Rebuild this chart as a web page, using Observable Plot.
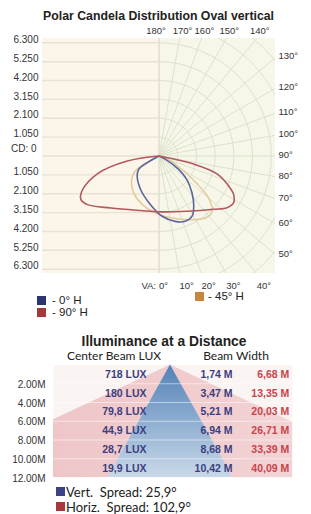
<!DOCTYPE html>
<html><head><meta charset="utf-8">
<script src="https://cdn.jsdelivr.net/npm/d3@7"></script>
<script src="https://cdn.jsdelivr.net/npm/@observablehq/plot@0.6"></script>
<style>
html,body{margin:0;padding:0;background:#fff;}
body{width:311px;height:514px;position:relative;overflow:hidden;font-family:"Liberation Sans",Arial,sans-serif;color:#222;}
.abs{position:absolute;white-space:pre;line-height:1;}
.c{transform:translate(-50%,-50%);}
.l{transform:translate(0,-50%);}
.sw{position:absolute;width:9px;height:9px;}
svg{overflow:visible;}
</style></head><body>
<script>
// ---------- Polar candela data ----------
const polarTitle = "Polar Candela Distribution Oval vertical";
const seriesNames = ["- 0° H", "- 90° H", "- 45° H"];
const va0  = [-57, -48, -29, -12, 3, 14, 22, 29, 35, 42, 50, 56, 63];
const cd0  = [1350, 1650, 2130, 2670, 3360, 3750, 3920, 3830, 3400, 2770, 2040, 1330, 410];
const va90 = [-81, -74, -66, -61, -56, -43, -19, 2, 27, 46, 53, 58, 63, 66, 73, 77];
const cd90 = [1800, 3600, 4720, 5010, 4840, 3960, 3210, 3110, 3450, 4270, 4780, 4930, 4700, 4370, 3410, 2000];
const va45 = [-58, -48, -35, -19, -4, 12, 25, 37, 44, 50, 54, 59, 67];
const cd45 = [1560, 2080, 2490, 2860, 3170, 3530, 3910, 4320, 4290, 3630, 2660, 1600, 700];
const cdLevels = [1050, 2100, 3150, 4200, 5250, 6300];
const cdLabels = ["1.050", "2.100", "3.150", "4.200", "5.250", "6.300"];
const topAngles = [170, 160, 150, 140];
const rightAngles = [130, 120, 110, 100, 90, 80, 70, 60, 50];
const bottomAngles = [0, 10, 20, 30, 40];
const gridAngles = [0, 10, 20, 30, 40, 50, 60, 70, 80, 90, 100, 110, 120, 130, 140, 150, 160, 170, 180];

// ---------- Illuminance data ----------
const illumTitle = "Illuminance at a Distance";
const distances = [2, 4, 6, 8, 10, 12];
const distLabels = ["2.00M", "4.00M", "6.00M", "8.00M", "10.00M", "12.00M"];
const luxLabels = ["718 LUX", "180 LUX", "79,8 LUX", "44,9 LUX", "28,7 LUX", "19,9 LUX"];
const vertWidths = [1.74, 3.47, 5.21, 6.94, 8.68, 10.42];
const horizWidths = [6.68, 13.35, 20.03, 26.71, 33.39, 40.09];
const spreadLabels = ["Vert.  Spread: 25,9°", "Horiz.  Spread: 102,9°"];

const D = 6540;
const rad = a => a * Math.PI / 180;
const toPts = (vas, cds, name) => [{x: 0, y: 0, s: name},
  ...vas.map((a, i) => ({x: cds[i] * Math.sin(rad(a)), y: cds[i] * Math.cos(rad(a)), s: name})),
  {x: 0, y: 0, s: name}];

const pts0 = toPts(va0, cd0, seriesNames[0]);
const pts90 = toPts(va90, cd90, seriesNames[1]);
const pts45 = toPts(va45, cd45, seriesNames[2]);

const levelsAll = [...cdLevels.map(v => -v).reverse(), 0, ...cdLevels];
const levelsNZ = levelsAll.filter(v => v !== 0);
const levelText = v => cdLabels[cdLevels.indexOf(Math.abs(v))];

const arcs = [];
for (let k = 1; k <= 9; k++) {
  for (let a = 0; a <= 180; a += 3) arcs.push({k, x: k * 1050 * Math.sin(rad(a)), y: k * 1050 * Math.cos(rad(a))});
}
const far = 3 * D;
const lab = {fontSize: 9.5, fill: "#333"};

const p1 = Plot.plot({
  width: 311, height: 300,
  marginLeft: 42, marginRight: 36, marginTop: 38, marginBottom: 27,
  x: {domain: [-D, D], axis: null},
  y: {domain: [-D, D], reverse: true, axis: null},
  style: {background: "transparent", fontFamily: "Liberation Sans, Arial, sans-serif"},
  marks: [
    Plot.rect([0], {x1: -D, x2: 0, y1: -D, y2: D, fill: "#fcf6ea"}),
    Plot.rect([0], {x1: 0, x2: D, y1: -D, y2: D, fill: "#f6f7e9"}),
    Plot.ruleY(levelsAll, {y: d => d, x1: -D, x2: 0, stroke: "#e8e2d2", strokeWidth: 1.4}),
    Plot.line(arcs, {x: "x", y: "y", z: "k", stroke: "#dde1cc", strokeWidth: 1, clip: true}),
    Plot.link(gridAngles, {x1: 0, y1: 0, x2: a => far * Math.sin(rad(a)), y2: a => far * Math.cos(rad(a)), stroke: "#dde1cc", strokeWidth: 1, clip: true}),
    Plot.ruleX([0], {stroke: "#dcdccb", strokeWidth: 1}),
    Plot.line(pts45, {x: "x", y: "y", stroke: "#e4cb9c", strokeWidth: 1.5, curve: "catmull-rom"}),
    Plot.line(pts0, {x: "x", y: "y", stroke: "#5c659f", strokeWidth: 1.6, curve: "catmull-rom"}),
    Plot.line(pts90, {x: "x", y: "y", stroke: "#b3585d", strokeWidth: 1.6, curve: "catmull-rom"}),
    Plot.text(levelsNZ, {x: () => -D, y: d => d, text: levelText, textAnchor: "end", dx: -4, dy: -3, fontSize: 10, fill: "#333"}),
    Plot.text(["CD: 0"], {x: () => -D, y: () => 0, text: d => d, textAnchor: "end", dx: -6, dy: -7, fontSize: 10, fill: "#333"}),
    Plot.text([180], {x: a => -D * Math.tan(rad(a)), y: () => -D, text: a => a + "°", dy: -8, dx: -3, ...lab}),
    Plot.text(topAngles, {x: a => -D * Math.tan(rad(a)), y: () => -D, text: a => a + "°", dy: -8, dx: 3, ...lab}),
    Plot.text(rightAngles, {x: () => D, y: a => D / Math.tan(rad(a)), text: a => a + "°", textAnchor: "start", dx: 3, dy: -1, ...lab}),
    Plot.text(bottomAngles, {x: a => D * Math.tan(rad(a)), y: () => D, text: a => a + "°", textAnchor: "start", dy: 12, ...lab}),
    Plot.text(["VA:"], {x: () => 0, y: () => D, text: d => d, textAnchor: "end", dx: -3, dy: 12, ...lab})
  ]
});
const w1 = document.createElement("div");
w1.className = "abs"; w1.style.left = "0px"; w1.style.top = "0px";
w1.appendChild(p1); document.body.appendChild(w1);

// ---------- Illuminance plot ----------
const X0 = -9.75, X1 = 10.17;
const pinkArea = [{d: 0, w: 0}, ...distances.map((d, i) => ({d, w: horizWidths[i]}))];
const blueArea = [{d: 0, w: 0}, ...distances.map((d, i) => ({d, w: vertWidths[i]}))];

const p2 = Plot.plot({
  width: 311, height: 125,
  marginLeft: 53, marginRight: 19, marginTop: 4.5, marginBottom: 8,
  x: {domain: [X0, X1], axis: null},
  y: {domain: [0, 12], reverse: true, axis: null},
  style: {background: "transparent", fontFamily: "Liberation Sans, Arial, sans-serif"},
  marks: [
    Plot.frame({fill: "#faf4f3", stroke: null}),
    Plot.areaX(pinkArea, {y: "d", x1: d => -d.w / 2, x2: d => d.w / 2, fill: "url(#pinkGrad)", clip: true}),
    Plot.areaX(blueArea, {y: "d", x1: d => -d.w / 2, x2: d => d.w / 2, fill: "url(#blueGrad)", clip: true}),
    Plot.ruleY(distances.slice(0, 5), {y: d => d, stroke: "#ffffff", strokeOpacity: 0.5, strokeWidth: 1}),
    Plot.text(distances, {x: () => X0, y: d => d, text: (d, i) => distLabels[i], textAnchor: "end", dx: -8, dy: 1, fontSize: 10, fill: "#333"}),
    Plot.text(distances, {x: () => -2, y: d => d - 1, text: (d, i) => luxLabels[i], textAnchor: "end", fontSize: 10.5, fontWeight: "bold", fill: "#3b3f7f"}),
    Plot.text(distances, {x: () => 5.17, y: d => d - 1, text: (d, i) => vertWidths[i].toFixed(2).replace(".", ",") + " M", textAnchor: "end", fontSize: 10.5, fontWeight: "bold", fill: "#3b3f7f"}),
    Plot.text(distances, {x: () => 9.9, y: d => d - 1, text: (d, i) => horizWidths[i].toFixed(2).replace(".", ",") + " M", textAnchor: "end", fontSize: 10.5, fontWeight: "bold", fill: "#c8444d"})
  ]
});
const svg2 = d3.select(p2.tagName.toLowerCase() === "svg" ? p2 : p2.querySelector("svg"));
const defs = svg2.insert("defs", ":first-child");
const pg = defs.append("linearGradient").attr("id", "pinkGrad").attr("x1", 0).attr("x2", 1).attr("y1", 0).attr("y2", 0);
pg.append("stop").attr("offset", "0%").attr("stop-color", "#edc2c5");
pg.append("stop").attr("offset", "50%").attr("stop-color", "#f0cbcd");
pg.append("stop").attr("offset", "100%").attr("stop-color", "#f5dcdc");
const bg = defs.append("linearGradient").attr("id", "blueGrad").attr("x1", 0).attr("x2", 0).attr("y1", 0).attr("y2", 1);
bg.append("stop").attr("offset", "0%").attr("stop-color", "#5281b6");
bg.append("stop").attr("offset", "55%").attr("stop-color", "#94b2d3");
bg.append("stop").attr("offset", "100%").attr("stop-color", "#c9d8e8");
const w2 = document.createElement("div");
w2.className = "abs"; w2.style.left = "0px"; w2.style.top = "360px";
w2.appendChild(p2); document.body.appendChild(w2);

// ---------- HTML text ----------
function txt(t, x, y, cls, css) {
  const e = document.createElement("div");
  e.className = "abs " + cls; e.textContent = t;
  e.style.left = x + "px"; e.style.top = y + "px";
  Object.assign(e.style, css || {});
  document.body.appendChild(e); return e;
}
function sw(x, y, color) {
  const e = document.createElement("div");
  e.className = "sw"; e.style.left = x + "px"; e.style.top = y + "px"; e.style.background = color;
  document.body.appendChild(e);
}
txt(polarTitle, 158.5, 16, "c", {fontSize: "12.3px", fontWeight: "bold", color: "#222"});
sw(37, 296, "#2b3570"); txt(seriesNames[0], 52, 301, "l", {fontSize: "11.5px"});
sw(37, 308, "#a3383c"); txt(seriesNames[1], 52, 313, "l", {fontSize: "11.5px"});
sw(195, 292, "#c8873f"); txt(seriesNames[2], 208, 297, "l", {fontSize: "11.5px"});

txt(illumTitle, 164, 342, "c", {fontSize: "13.8px", fontWeight: "bold", color: "#222"});
txt("Center Beam LUX", 114, 356, "c", {fontSize: "12px", fontFamily: "Lato, sans-serif", color: "#222"});
txt("Beam Width", 236, 356, "c", {fontSize: "12px", fontFamily: "Lato, sans-serif", color: "#222"});
sw(56, 487, "#3b4386"); txt(spreadLabels[0], 66, 492, "l", {fontSize: "13px", fontFamily: "Lato, sans-serif"});
sw(56, 502, "#a8383c"); txt(spreadLabels[1], 66, 507, "l", {fontSize: "13px", fontFamily: "Lato, sans-serif"});
</script>
</body></html>
